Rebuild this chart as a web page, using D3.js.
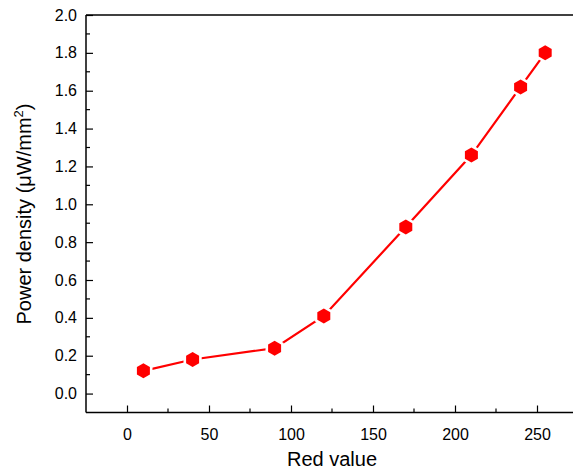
<!DOCTYPE html>
<html>
<head>
<meta charset="utf-8">
<script src="https://cdn.jsdelivr.net/npm/d3@7"></script>
<style>
  body { margin: 0; background: #fff; }
  text { font-family: "Liberation Sans", Arial, sans-serif; }
</style>
</head>
<body>
<div id="chart"></div>
<script>
// data
const redValues = [10, 40, 90, 120, 170, 210, 240, 255];
const powerDensity = [0.12, 0.18, 0.24, 0.41, 0.88, 1.26, 1.62, 1.80];
const xTicks = [0, 50, 100, 150, 200, 250];
const yTicks = [0.0, 0.2, 0.4, 0.6, 0.8, 1.0, 1.2, 1.4, 1.6, 1.8, 2.0];

const width = 573, height = 475;
const plotLeft = 86, plotTop = 15, plotBottom = 412.5, plotRight = 573;

const svg = d3.select("#chart").append("svg")
    .attr("width", width)
    .attr("height", height);

// about 1.64 px per unit, axis starts at -25; right side is cut off
const x = d3.scaleLinear()
    .domain([-25, -25 + (plotRight - plotLeft) / 1.64])
    .range([plotLeft, plotRight]);

const y = d3.scaleLinear().domain([-0.1, 2.0]).range([plotBottom, plotTop]);

// top line of the frame
svg.append("line")
    .attr("x1", plotLeft).attr("x2", plotRight)
    .attr("y1", plotTop).attr("y2", plotTop)
    .attr("stroke", "#000").attr("stroke-width", 1.5);

// x axis, ticks pointing inward
const xAxis = d3.axisBottom(x)
    .tickValues(xTicks)
    .tickSize(-7)
    .tickPadding(16)
    .tickFormat(d3.format("d"));
const gx = svg.append("g")
    .attr("transform", `translate(0,${plotBottom})`)
    .call(xAxis);
gx.select(".domain").attr("d", `M${plotLeft},0H${plotRight}`).attr("stroke-width", 1.5);
gx.selectAll(".tick line").attr("stroke-width", 1.2);
gx.selectAll("text").attr("font-size", 16).attr("fill", "#000");

// x minor ticks
svg.append("g").selectAll("line")
    .data([25, 75, 125, 175, 225])
    .join("line")
    .attr("x1", d => x(d)).attr("x2", d => x(d))
    .attr("y1", plotBottom).attr("y2", plotBottom - 4)
    .attr("stroke", "#000").attr("stroke-width", 1.2);

// y axis, ticks inward
const yAxis = d3.axisLeft(y)
    .tickValues(yTicks)
    .tickSize(-7)
    .tickPadding(9)
    .tickFormat(d3.format(".1f"));
const gy = svg.append("g")
    .attr("transform", `translate(${plotLeft},0)`)
    .call(yAxis);
gy.select(".domain").attr("d", `M0,${plotBottom}V${plotTop}`).attr("stroke-width", 1.5);
gy.selectAll(".tick line").attr("stroke-width", 1.2);
gy.selectAll("text").attr("font-size", 16).attr("fill", "#000");

// y minor ticks
svg.append("g").selectAll("line")
    .data(d3.range(0.1, 2.0, 0.2))
    .join("line")
    .attr("x1", plotLeft).attr("x2", plotLeft + 4)
    .attr("y1", d => y(d)).attr("y2", d => y(d))
    .attr("stroke", "#000").attr("stroke-width", 1.2);

// axis titles
svg.append("text")
    .attr("x", 332).attr("y", 466)
    .attr("text-anchor", "middle")
    .attr("font-size", 20)
    .text("Red value");

const yLabel = svg.append("text")
    .attr("transform", "translate(31,214) rotate(-90)")
    .attr("text-anchor", "middle")
    .attr("font-size", 20);
yLabel.append("tspan").text("Power density (\u03bcW/mm");
yLabel.append("tspan").attr("font-size", 13).attr("dy", -8).text("2");
yLabel.append("tspan").attr("dy", 8).text(")");

const pts = redValues.map((v, i) => [v, powerDensity[i]]);

// line
svg.append("path")
    .datum(pts)
    .attr("fill", "none")
    .attr("stroke", "#ff0000")
    .attr("stroke-width", 2.2)
    .attr("d", d3.line().x(d => x(d[0])).y(d => y(d[1])));

// hexagon markers with a small white gap around them
function hexPath(r) {
    const p = d3.path();
    for (let k = 0; k < 6; k++) {
        const a = Math.PI / 2 + k * Math.PI / 3;
        const px = r * Math.cos(a), py = r * Math.sin(a);
        if (k === 0) p.moveTo(px, py); else p.lineTo(px, py);
    }
    p.closePath();
    return p.toString();
}

const marks = svg.append("g").selectAll("g")
    .data(pts)
    .join("g")
    .attr("transform", d => `translate(${x(d[0])},${y(d[1])})`);
marks.append("path").attr("d", hexPath(10.5)).attr("fill", "#fff");
marks.append("path").attr("d", hexPath(7.5)).attr("fill", "#ff0000");
</script>
</body>
</html>
